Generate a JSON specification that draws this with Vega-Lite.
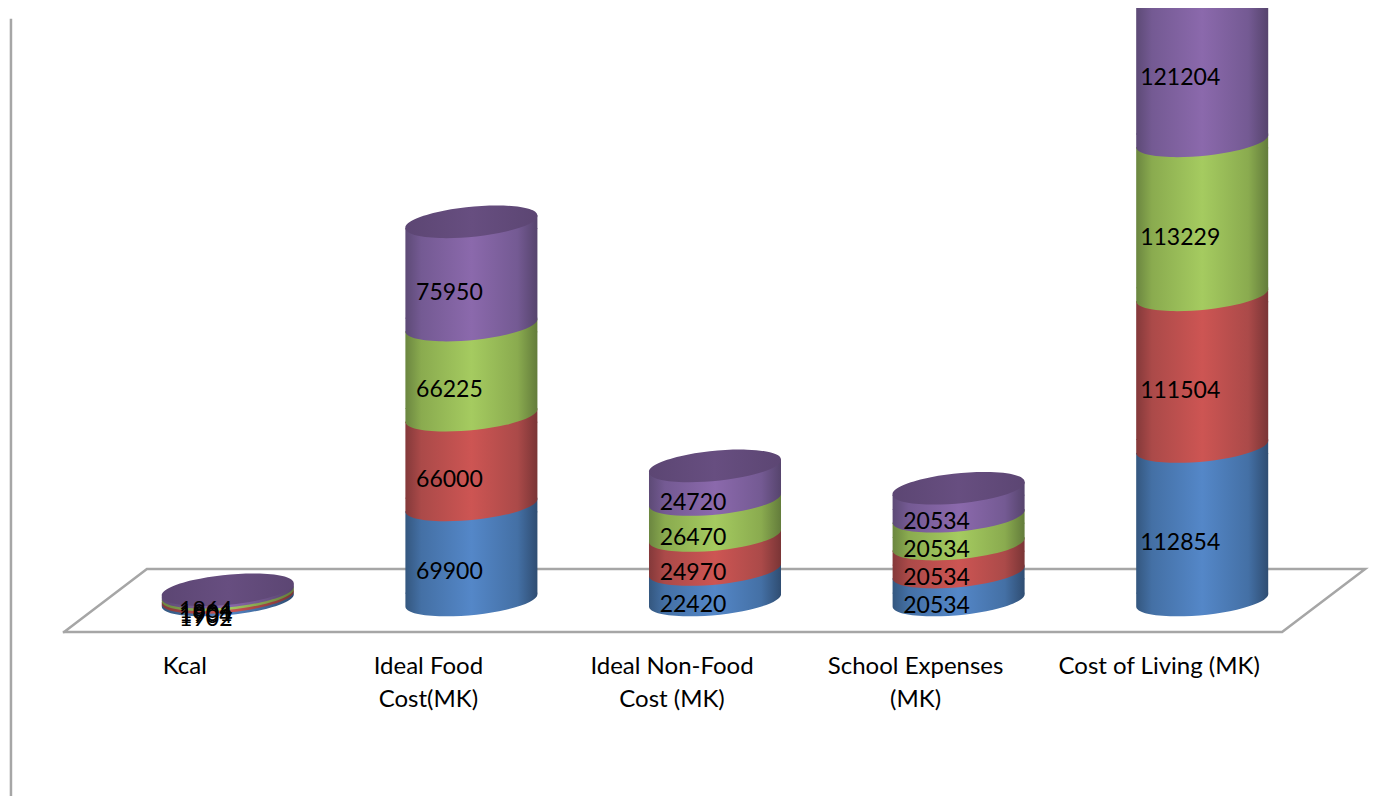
{"$schema":"https://vega.github.io/schema/vega-lite/v6.json","width":1400,"height":788,"autosize":"none","padding":{"left":0,"top":8,"right":0,"bottom":0},"background":"#ffffff","config":{"view":{"stroke":null}},"resolve":{"scale":{"x":"independent"}},"layer":[{"data":{"values":[{"part":"floor","seq":1,"pos":-0.673,"level":-23529},{"part":"floor","seq":2,"pos":4.327,"level":-23529},{"part":"floor","seq":3,"pos":4.668,"level":22794},{"part":"floor","seq":4,"pos":-0.333,"level":22794},{"part":"floor","seq":5,"pos":-0.673,"level":-23529},{"part":"wall","seq":1,"pos":-0.891,"level":426470},{"part":"wall","seq":2,"pos":-0.891,"level":-144118}]},"mark":{"type":"line","color":"#a6a6a6","strokeWidth":2.5,"strokeCap":"square"},"encoding":{"x":{"field":"pos","type":"quantitative","axis":null,"scale":{"domain":[-0.936,4.811],"nice":false,"zero":false}},"y":{"field":"level","type":"quantitative","axis":null,"scale":{"domain":[-144118,435294],"nice":false,"zero":false}},"detail":{"field":"part"},"order":{"field":"seq"}}},{"data":{"values":[{"category":"Kcal","series":"Series 1","value":1902},{"category":"Kcal","series":"Series 2","value":1904},{"category":"Kcal","series":"Series 3","value":1901},{"category":"Kcal","series":"Series 4","value":1864},{"category":"Ideal Food Cost(MK)","series":"Series 1","value":69900},{"category":"Ideal Food Cost(MK)","series":"Series 2","value":66000},{"category":"Ideal Food Cost(MK)","series":"Series 3","value":66225},{"category":"Ideal Food Cost(MK)","series":"Series 4","value":75950},{"category":"Ideal Non-Food Cost (MK)","series":"Series 1","value":22420},{"category":"Ideal Non-Food Cost (MK)","series":"Series 2","value":24970},{"category":"Ideal Non-Food Cost (MK)","series":"Series 3","value":26470},{"category":"Ideal Non-Food Cost (MK)","series":"Series 4","value":24720},{"category":"School Expenses (MK)","series":"Series 1","value":20534},{"category":"School Expenses (MK)","series":"Series 2","value":20534},{"category":"School Expenses (MK)","series":"Series 3","value":20534},{"category":"School Expenses (MK)","series":"Series 4","value":20534},{"category":"Cost of Living (MK)","series":"Series 1","value":112854},{"category":"Cost of Living (MK)","series":"Series 2","value":111504},{"category":"Cost of Living (MK)","series":"Series 3","value":113229},{"category":"Cost of Living (MK)","series":"Series 4","value":121204}]},"encoding":{"x":{"field":"category","type":"nominal","sort":null,"scale":{"range":[106,1324],"paddingInner":0.458,"paddingOuter":0.229},"axis":{"title":null,"orient":"bottom","offset":-142,"domain":false,"ticks":false,"grid":false,"labelAngle":0,"labelOffset":-43,"labelPadding":0,"labelFont":"Lato","labelFontSize":24,"labelColor":"#000000","labelLineHeight":33,"labelBaseline":"top","labelLimit":0,"labelExpr":"datum.label=='Ideal Food Cost(MK)'?['Ideal Food','Cost(MK)']:datum.label=='Ideal Non-Food Cost (MK)'?['Ideal Non-Food','Cost (MK)']:datum.label=='School Expenses (MK)'?['School Expenses','(MK)']:datum.label"}}},"layer":[{"transform":[{"stack":"value","groupby":["category"],"sort":[{"field":"series","order":"ascending"}],"as":["v0","v1"]}],"layer":[{"transform":[{"filter":"datum.series=='Series 1' && datum.category=='Kcal'"}],"mark":{"type":"point","clip":true,"filled":true,"opacity":1,"size":17424,"shape":"M -1 0.098 A 1.005 0.223 -5.6 1 0 1 -0.098 A 1.005 0.223 -5.6 1 0 -1 0.098 Z","fill":{"gradient":"linear","x1":0,"y1":0,"x2":1,"y2":0,"stops":[{"offset":0,"color":"#34577f"},{"offset":0.5,"color":"#5487c8"},{"offset":1,"color":"#2f4d72"}]}},"encoding":{"y":{"field":"v0","type":"quantitative","axis":null}}},{"transform":[{"filter":"datum.series=='Series 2' && datum.category=='Kcal'"}],"mark":{"type":"point","clip":true,"filled":true,"opacity":1,"size":17424,"shape":"M -1 0.098 A 1.005 0.223 -5.6 1 0 1 -0.098 A 1.005 0.223 -5.6 1 0 -1 0.098 Z","fill":{"gradient":"linear","x1":0,"y1":0,"x2":1,"y2":0,"stops":[{"offset":0,"color":"#84393a"},{"offset":0.5,"color":"#cd5553"},{"offset":1,"color":"#7a3536"}]}},"encoding":{"y":{"field":"v0","type":"quantitative","axis":null}}},{"transform":[{"filter":"datum.series=='Series 3' && datum.category=='Kcal'"}],"mark":{"type":"point","clip":true,"filled":true,"opacity":1,"size":17424,"shape":"M -1 0.098 A 1.005 0.223 -5.6 1 0 1 -0.098 A 1.005 0.223 -5.6 1 0 -1 0.098 Z","fill":{"gradient":"linear","x1":0,"y1":0,"x2":1,"y2":0,"stops":[{"offset":0,"color":"#6b8640"},{"offset":0.5,"color":"#a5cb60"},{"offset":1,"color":"#637c3b"}]}},"encoding":{"y":{"field":"v0","type":"quantitative","axis":null}}},{"transform":[{"filter":"datum.series=='Series 4' && datum.category=='Kcal'"}],"mark":{"type":"point","clip":true,"filled":true,"opacity":1,"size":17424,"shape":"M -1 0.098 A 1.005 0.223 -5.6 1 0 1 -0.098 A 1.005 0.223 -5.6 1 0 -1 0.098 Z","fill":{"gradient":"linear","x1":0,"y1":0,"x2":1,"y2":0,"stops":[{"offset":0,"color":"#5d4a76"},{"offset":0.5,"color":"#8b69ac"},{"offset":1,"color":"#56446d"}]}},"encoding":{"y":{"field":"v0","type":"quantitative","axis":null}}},{"transform":[{"filter":"datum.series=='Series 1' && datum.category!='Kcal'"}],"layer":[{"mark":{"type":"bar","clip":true,"yOffset":-6.5,"y2Offset":6.5,"fill":{"gradient":"linear","x1":0,"y1":0,"x2":1,"y2":0,"stops":[{"offset":0,"color":"#34577f"},{"offset":0.12,"color":"#4470a5"},{"offset":0.5,"color":"#5487c8"},{"offset":0.85,"color":"#4470a5"},{"offset":1,"color":"#2f4d72"}]}},"encoding":{"y":{"field":"v0","type":"quantitative","axis":null},"y2":{"field":"v1"}}},{"mark":{"type":"point","clip":true,"filled":true,"opacity":1,"size":17424,"shape":"M -1 0.098 A 1.005 0.223 -5.6 1 0 1 -0.098 L 1 -0.11 L -1 -0.11 Z","fill":{"gradient":"linear","x1":0,"y1":0,"x2":1,"y2":0,"stops":[{"offset":0,"color":"#34577f"},{"offset":0.12,"color":"#4470a5"},{"offset":0.5,"color":"#5487c8"},{"offset":0.85,"color":"#4470a5"},{"offset":1,"color":"#2f4d72"}]}},"encoding":{"y":{"field":"v0","type":"quantitative","axis":null}}},{"mark":{"type":"point","clip":true,"filled":true,"opacity":1,"size":17424,"shape":"M -1 0.098 L 1 -0.098 L 1 0.11 L -1 0.11 Z","fill":{"gradient":"linear","x1":0,"y1":0,"x2":1,"y2":0,"stops":[{"offset":0,"color":"#34577f"},{"offset":0.12,"color":"#4470a5"},{"offset":0.5,"color":"#5487c8"},{"offset":0.85,"color":"#4470a5"},{"offset":1,"color":"#2f4d72"}]}},"encoding":{"y":{"field":"v1","type":"quantitative","axis":null}}}]},{"transform":[{"filter":"datum.series=='Series 2' && datum.category!='Kcal'"}],"layer":[{"mark":{"type":"bar","clip":true,"yOffset":-6.5,"y2Offset":6.5,"fill":{"gradient":"linear","x1":0,"y1":0,"x2":1,"y2":0,"stops":[{"offset":0,"color":"#84393a"},{"offset":0.12,"color":"#ab4a49"},{"offset":0.5,"color":"#cd5553"},{"offset":0.85,"color":"#ab4a49"},{"offset":1,"color":"#7a3536"}]}},"encoding":{"y":{"field":"v0","type":"quantitative","axis":null},"y2":{"field":"v1"}}},{"mark":{"type":"point","clip":true,"filled":true,"opacity":1,"size":17424,"shape":"M -1 0.098 A 1.005 0.223 -5.6 1 0 1 -0.098 L 1 -0.11 L -1 -0.11 Z","fill":{"gradient":"linear","x1":0,"y1":0,"x2":1,"y2":0,"stops":[{"offset":0,"color":"#84393a"},{"offset":0.12,"color":"#ab4a49"},{"offset":0.5,"color":"#cd5553"},{"offset":0.85,"color":"#ab4a49"},{"offset":1,"color":"#7a3536"}]}},"encoding":{"y":{"field":"v0","type":"quantitative","axis":null}}},{"mark":{"type":"point","clip":true,"filled":true,"opacity":1,"size":17424,"shape":"M -1 0.098 L 1 -0.098 L 1 0.11 L -1 0.11 Z","fill":{"gradient":"linear","x1":0,"y1":0,"x2":1,"y2":0,"stops":[{"offset":0,"color":"#84393a"},{"offset":0.12,"color":"#ab4a49"},{"offset":0.5,"color":"#cd5553"},{"offset":0.85,"color":"#ab4a49"},{"offset":1,"color":"#7a3536"}]}},"encoding":{"y":{"field":"v1","type":"quantitative","axis":null}}}]},{"transform":[{"filter":"datum.series=='Series 3' && datum.category!='Kcal'"}],"layer":[{"mark":{"type":"bar","clip":true,"yOffset":-6.5,"y2Offset":6.5,"fill":{"gradient":"linear","x1":0,"y1":0,"x2":1,"y2":0,"stops":[{"offset":0,"color":"#6b8640"},{"offset":0.12,"color":"#8aab4f"},{"offset":0.5,"color":"#a5cb60"},{"offset":0.85,"color":"#8aab4f"},{"offset":1,"color":"#637c3b"}]}},"encoding":{"y":{"field":"v0","type":"quantitative","axis":null},"y2":{"field":"v1"}}},{"mark":{"type":"point","clip":true,"filled":true,"opacity":1,"size":17424,"shape":"M -1 0.098 A 1.005 0.223 -5.6 1 0 1 -0.098 L 1 -0.11 L -1 -0.11 Z","fill":{"gradient":"linear","x1":0,"y1":0,"x2":1,"y2":0,"stops":[{"offset":0,"color":"#6b8640"},{"offset":0.12,"color":"#8aab4f"},{"offset":0.5,"color":"#a5cb60"},{"offset":0.85,"color":"#8aab4f"},{"offset":1,"color":"#637c3b"}]}},"encoding":{"y":{"field":"v0","type":"quantitative","axis":null}}},{"mark":{"type":"point","clip":true,"filled":true,"opacity":1,"size":17424,"shape":"M -1 0.098 L 1 -0.098 L 1 0.11 L -1 0.11 Z","fill":{"gradient":"linear","x1":0,"y1":0,"x2":1,"y2":0,"stops":[{"offset":0,"color":"#6b8640"},{"offset":0.12,"color":"#8aab4f"},{"offset":0.5,"color":"#a5cb60"},{"offset":0.85,"color":"#8aab4f"},{"offset":1,"color":"#637c3b"}]}},"encoding":{"y":{"field":"v1","type":"quantitative","axis":null}}}]},{"transform":[{"filter":"datum.series=='Series 4' && datum.category!='Kcal'"}],"layer":[{"mark":{"type":"bar","clip":true,"yOffset":-6.5,"y2Offset":6.5,"fill":{"gradient":"linear","x1":0,"y1":0,"x2":1,"y2":0,"stops":[{"offset":0,"color":"#5d4a76"},{"offset":0.12,"color":"#745a93"},{"offset":0.5,"color":"#8b69ac"},{"offset":0.85,"color":"#745a93"},{"offset":1,"color":"#56446d"}]}},"encoding":{"y":{"field":"v0","type":"quantitative","axis":null},"y2":{"field":"v1"}}},{"mark":{"type":"point","clip":true,"filled":true,"opacity":1,"size":17424,"shape":"M -1 0.098 A 1.005 0.223 -5.6 1 0 1 -0.098 L 1 -0.11 L -1 -0.11 Z","fill":{"gradient":"linear","x1":0,"y1":0,"x2":1,"y2":0,"stops":[{"offset":0,"color":"#5d4a76"},{"offset":0.12,"color":"#745a93"},{"offset":0.5,"color":"#8b69ac"},{"offset":0.85,"color":"#745a93"},{"offset":1,"color":"#56446d"}]}},"encoding":{"y":{"field":"v0","type":"quantitative","axis":null}}},{"mark":{"type":"point","clip":true,"filled":true,"opacity":1,"size":17424,"shape":"M -1 0.098 L 1 -0.098 L 1 0.11 L -1 0.11 Z","fill":{"gradient":"linear","x1":0,"y1":0,"x2":1,"y2":0,"stops":[{"offset":0,"color":"#5d4a76"},{"offset":0.12,"color":"#745a93"},{"offset":0.5,"color":"#8b69ac"},{"offset":0.85,"color":"#745a93"},{"offset":1,"color":"#56446d"}]}},"encoding":{"y":{"field":"v1","type":"quantitative","axis":null}}}]},{"transform":[{"filter":"datum.series=='Series 4'"}],"mark":{"type":"point","clip":true,"filled":true,"opacity":1,"size":17424,"shape":"M -1 0.098 A 1.005 0.223 -5.6 1 0 1 -0.098 A 1.005 0.223 -5.6 1 0 -1 0.098 Z","fill":{"gradient":"linear","x1":0,"y1":0,"x2":1,"y2":0,"stops":[{"offset":0,"color":"#5c4673"},{"offset":0.5,"color":"#674e80"},{"offset":1,"color":"#5c4673"}]}},"encoding":{"y":{"field":"v1","type":"quantitative","axis":null}}}]},{"mark":{"type":"text","font":"Lato","fontSize":23,"color":"#000000","align":"center","baseline":"middle","dx":-22,"dy":20,"clip":true},"encoding":{"y":{"field":"value","type":"quantitative","axis":null,"stack":"zero","bandPosition":0.5},"detail":{"field":"series"},"order":{"field":"series"},"text":{"field":"value","type":"quantitative","format":"d"}}}]}]}
